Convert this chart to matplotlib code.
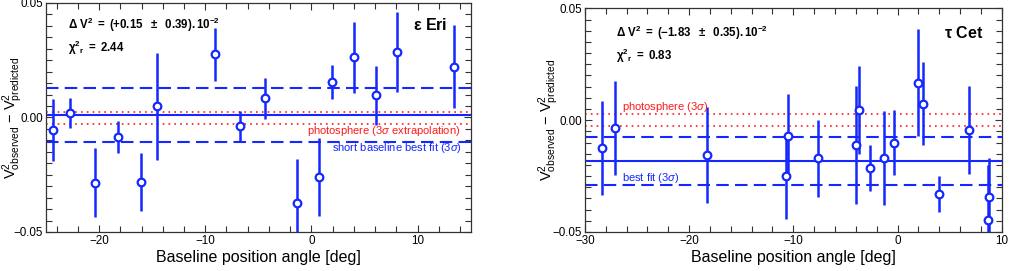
import matplotlib
matplotlib.use("Agg")
import matplotlib.pyplot as plt
from matplotlib.ticker import MultipleLocator

plt.rcParams['font.family'] = ['Liberation Sans', 'DejaVu Sans']
plt.rcParams['mathtext.fontset'] = 'custom'
plt.rcParams['mathtext.rm'] = 'Liberation Sans'
plt.rcParams['mathtext.bf'] = 'Liberation Sans:bold'
plt.rcParams['mathtext.it'] = 'Liberation Sans:italic'

BLUE = '#1428ff'
RED = '#ff1a1a'

# eps Eri
eri_pa = [-24.36, -22.73, -20.38, -18.21, -16.02, -14.51, -9.06, -6.71,
          -4.33, -1.35, 0.69, 1.94, 4.04, 6.08, 8.03, 13.39]
eri_dv2 = [-0.0054, 0.0019, -0.0284, -0.0085, -0.0281, 0.0048, 0.0276, -0.0038,
           0.0083, -0.0373, -0.0260, 0.0154, 0.0263, 0.0096, 0.0287, 0.0221]
eri_err = [0.0134, 0.0065, 0.0150, 0.0070, 0.0126, 0.0232, 0.0115, 0.0067,
           0.0088, 0.0190, 0.0172, 0.0075, 0.0156, 0.0129, 0.0174, 0.0181]
eri_fit = 0.0013
eri_fit_lo, eri_fit_hi = -0.0107, 0.0130
eri_phot = (-0.0028, 0.0022)

# tau Cet
cet_pa = [-28.31, -27.06, -18.24, -10.70, -10.51, -7.67, -4.03, -3.71,
          -2.65, -1.31, -0.35, 1.95, 2.40, 3.96, 6.81, 8.75, 8.63]
cet_dv2 = [-0.0124, -0.0034, -0.0156, -0.0250, -0.0071, -0.0170, -0.0110, 0.0045,
           -0.0213, -0.0168, -0.0101, 0.0168, 0.0073, -0.0330, -0.0042, -0.0342, -0.0448]
cet_err = [0.0210, 0.0210, 0.0213, 0.0190, 0.0190, 0.0173, 0.0263, 0.0197,
           0.0104, 0.0211, 0.0145, 0.0240, 0.0186, 0.0080, 0.0197, 0.0174, 0.0246]
cet_fit = -0.0183
cet_fit_lo, cet_fit_hi = -0.0290, -0.0076
cet_phot = (-0.0027, 0.0027)

fig = plt.figure(figsize=(10.1, 2.71), dpi=100)
ax1 = fig.add_axes([0.0455, 0.144, 0.4205, 0.845])
ax2 = fig.add_axes([0.579, 0.144, 0.413, 0.825])


def panel(ax, pa, dv2, err, fit, lo, hi, phot, xlim, ylab_x):
    for y in phot:
        ax.axhline(y, color=RED, ls=(0, (1, 2.5)), lw=1.2, zorder=1)
    ax.axhline(fit, color=BLUE, lw=1.5, zorder=1)
    for y in (lo, hi):
        ax.axhline(y, color=BLUE, ls=(0, (6, 3)), lw=1.5, zorder=1)
    ax.errorbar(pa, dv2, yerr=err, fmt='o', ms=5.5, mfc='white', mec=BLUE,
                mew=1.6, ecolor=BLUE, elinewidth=1.8, capsize=0, zorder=3)
    ax.set_xlim(*xlim)
    ax.set_ylim(-0.05, 0.05)
    ax.xaxis.set_major_locator(MultipleLocator(10))
    ax.xaxis.set_minor_locator(MultipleLocator(2))
    ax.yaxis.set_major_locator(MultipleLocator(0.05))
    ax.yaxis.set_minor_locator(MultipleLocator(0.005))
    ax.yaxis.set_major_formatter(plt.FuncFormatter(
        lambda v, p: ('%.2f' % v).replace('-', '\u2212')))
    ax.tick_params(which='both', direction='in', top=True, right=True,
                   labelsize=8.4, pad=2.2, color='#333333', width=0.8)
    ax.tick_params(which='major', length=5)
    ax.tick_params(which='minor', length=4)
    for s in ax.spines.values():
        s.set_color('#333333')
        s.set_linewidth(0.9)
    ax.set_xlabel('Baseline position angle [deg]', fontsize=11.5, labelpad=2)
    ax.set_ylabel(r'V$^2_{\rm observed}$ $-$ V$^2_{\rm predicted}$',
                  fontsize=10.5)
    ax.yaxis.set_label_coords(ylab_x, 0.5)


panel(ax1, eri_pa, eri_dv2, eri_err, eri_fit, eri_fit_lo, eri_fit_hi,
      eri_phot, (-25, 15), -0.049)
panel(ax2, cet_pa, cet_dv2, cet_err, cet_fit, cet_fit_lo, cet_fit_hi,
      cet_phot, (-30, 10), -0.056)

# annotations, left
ax1.text(0.052, 0.905, r'$\mathbf{\Delta\ V^2\ =\ (+0.15\ \ \pm\ \ 0.39).10^{-2}}$',
         transform=ax1.transAxes, fontsize=8.3, va='center')
ax1.text(0.052, 0.805, r'$\mathbf{\chi^2{}_r\ =\ 2.44}$',
         transform=ax1.transAxes, fontsize=8.3, va='center')
ax1.text(0.945, 0.905, r'$\mathbf{\epsilon}$ Eri', transform=ax1.transAxes,
         fontsize=11.5, fontweight='bold', ha='right', va='center')
ax1.text(0.975, 0.44, 'photosphere (3$\\sigma$ extrapolation)', color=RED,
         transform=ax1.transAxes, fontsize=8, ha='right', va='center')
ax1.text(0.98, 0.366, 'short baseline best fit (3$\\sigma$)', color=BLUE,
         transform=ax1.transAxes, fontsize=8, ha='right', va='center')

# annotations, right
ax2.text(0.076, 0.89, r'$\mathbf{\Delta\ V^2\ =\ (-1.83\ \ \pm\ \ 0.35).10^{-2}}$',
         transform=ax2.transAxes, fontsize=8.3, va='center')
ax2.text(0.076, 0.788, r'$\mathbf{\chi^2{}_r\ =\ 0.83}$',
         transform=ax2.transAxes, fontsize=8.3, va='center')
ax2.text(0.955, 0.89, r'$\mathbf{\tau}$ Cet', transform=ax2.transAxes,
         fontsize=11.5, fontweight='bold', ha='right', va='center')
ax2.text(0.09, 0.558, 'photosphere (3$\\sigma$)', color=RED,
         transform=ax2.transAxes, fontsize=8, ha='left', va='center')
ax2.text(0.09, 0.24, 'best fit (3$\\sigma$)', color=BLUE,
         transform=ax2.transAxes, fontsize=8, ha='left', va='center')

fig.savefig('out.png', dpi=100)
